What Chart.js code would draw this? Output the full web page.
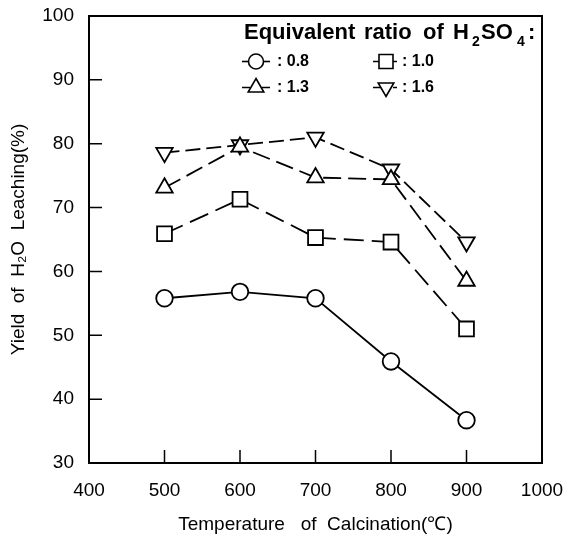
<!DOCTYPE html>
<html>
<head>
<meta charset="utf-8">
<script src="https://cdn.jsdelivr.net/npm/chart.js@4.4.0/dist/chart.umd.min.js"></script>
<style>
html, body { margin: 0; padding: 0; background: #fff; }
</style>
</head>
<body>
<canvas id="myYield" width="563" height="538"></canvas>
<script>
var temperatures = [500, 600, 700, 800, 900];
var ratio08 = [55.8, 56.8, 55.8, 45.9, 36.7];
var ratio10 = [65.9, 71.3, 65.3, 64.6, 51.0];
var ratio13 = [73.1, 79.5, 74.7, 74.4, 58.5];
var ratio16 = [78.6, 79.8, 81.0, 76.0, 64.6];
var ratioLabels = ["0.8", "1.0", "1.3", "1.6"];
var xTicks = [400, 500, 600, 700, 800, 900, 1000];
var yTicks = [30, 40, 50, 60, 70, 80, 90, 100];

var FAMILY = '"Liberation Sans", Arial, sans-serif';
Chart.defaults.font.family = FAMILY;
Chart.defaults.color = '#000';

function pts(vals) {
  return temperatures.map(function (t, i) { return { x: t, y: vals[i] }; });
}

// box round the plot, ticks pointing inwards
var frameTicks = {
  id: 'frameTicks',
  beforeDatasetsDraw: function (chart) {
    var a = chart.chartArea, ctx = chart.ctx;
    var xs = chart.scales.x, ys = chart.scales.y;
    ctx.save();
    ctx.strokeStyle = '#000';
    ctx.lineWidth = 2;
    ctx.strokeRect(a.left, a.top, a.right - a.left, a.bottom - a.top);
    ctx.lineWidth = 1.5;
    ctx.beginPath();
    xTicks.slice(1, -1).forEach(function (t) {
      var px = xs.getPixelForValue(t);
      ctx.moveTo(px, a.bottom);
      ctx.lineTo(px, a.bottom - 13);
    });
    yTicks.slice(1, -1).forEach(function (v) {
      var py = ys.getPixelForValue(v);
      ctx.moveTo(a.left, py);
      ctx.lineTo(a.left + 13, py);
    });
    ctx.stroke();
    ctx.restore();
  }
};

function marker(ctx, style, x, y) {
  ctx.beginPath();
  if (style === 'circle') {
    ctx.arc(x, y, 7.5, 0, Math.PI * 2);
  } else if (style === 'rect') {
    ctx.rect(x - 7, y - 7, 14, 14);
  } else if (style === 'up') {
    ctx.moveTo(x, y - 9); ctx.lineTo(x + 7.8, y + 4.5); ctx.lineTo(x - 7.8, y + 4.5); ctx.closePath();
  } else {
    ctx.moveTo(x, y + 9); ctx.lineTo(x + 7.8, y - 4.5); ctx.lineTo(x - 7.8, y - 4.5); ctx.closePath();
  }
  ctx.fillStyle = '#fff';
  ctx.fill();
  ctx.stroke();
}

var ratioLegend = {
  id: 'ratioLegend',
  afterDraw: function (chart) {
    var ctx = chart.ctx;
    ctx.save();
    ctx.fillStyle = '#000';
    ctx.strokeStyle = '#000';
    ctx.textBaseline = 'alphabetic';
    // title words are spread wide in the original
    var big = 'bold 22px ' + FAMILY, small = 'bold 14px ' + FAMILY;
    var parts = [
      ['Equivalent', 244, 39, big], ['ratio', 364, 39, big], ['of', 423, 39, big],
      ['H', 453, 39, big], ['2', 472, 46, small], ['SO', 481, 39, big],
      ['4', 517, 46, small], [':', 528, 39, big]
    ];
    parts.forEach(function (p) {
      ctx.font = p[3];
      ctx.fillText(p[0], p[1], p[2]);
    });

    var entries = [
      { x0: 242, x1: 270, mx: 256, tx: 277, y: 61.5, style: 'circle', dash: [] },
      { x0: 373, x1: 398, mx: 386, tx: 402, y: 61.5, style: 'rect', dash: [16, 4, 4, 4] },
      { x0: 242, x1: 271, mx: 256, tx: 277, y: 87.5, style: 'up', dash: [8, 2] },
      { x0: 373, x1: 400, mx: 386, tx: 402, y: 87.5, style: 'down', dash: [17, 3, 4, 3] }
    ];
    ctx.lineWidth = 1.6;
    ctx.font = 'bold 16px ' + FAMILY;
    ctx.textBaseline = 'middle';
    entries.forEach(function (e, i) {
      ctx.setLineDash(e.dash);
      ctx.beginPath();
      ctx.moveTo(e.x0, e.y);
      ctx.lineTo(e.x1, e.y);
      ctx.stroke();
      ctx.setLineDash([]);
      marker(ctx, e.style, e.mx, e.y);
      ctx.fillStyle = '#000';
      ctx.fillText(': ' + ratioLabels[i], e.tx, e.y);
    });
    ctx.restore();
  }
};

function series(label, vals, style, radius, dash, rotation) {
  return {
    label: label,
    data: pts(vals),
    borderColor: '#000',
    borderWidth: 1.8,
    borderDash: dash,
    pointStyle: style,
    pointRadius: radius,
    pointRotation: rotation || 0,
    pointBackgroundColor: '#fff',
    pointBorderColor: '#000',
    pointBorderWidth: 1.8,
    tension: 0,
    fill: false
  };
}

var ctx = document.getElementById("myYield").getContext('2d');
var myChart = new Chart(ctx, {
  type: 'line',
  data: {
    datasets: [
      series(ratioLabels[0], ratio08, 'circle', 8.3, []),
      series(ratioLabels[1], ratio10, 'rect', 10.5, [20, 8]),
      series(ratioLabels[2], ratio13, 'triangle', 9.5, [18, 7]),
      series(ratioLabels[3], ratio16, 'triangle', 9.5, [15, 6], 180)
    ]
  },
  plugins: [frameTicks, ratioLegend],
  options: {
    responsive: false,
    animation: false,
    devicePixelRatio: 1,
    layout: { padding: { top: 16, right: 21, left: 0, bottom: 0 } },
    plugins: { legend: { display: false }, tooltip: { enabled: false } },
    scales: {
      x: {
        type: 'linear',
        min: 400,
        max: 1000,
        afterBuildTicks: function (s) { s.ticks = xTicks.map(function (v) { return { value: v }; }); },
        afterFit: function (s) { s.height = 75; s.paddingLeft = 0; s.paddingRight = 0; },
        grid: { display: false, drawTicks: false },
        border: { display: false },
        ticks: {
          font: { size: 19 }, color: '#000', padding: 16, maxRotation: 0, autoSkip: false,
          callback: function (v) { return String(v); }
        },
        title: { display: true, text: 'Temperature   of  Calcination(℃)', font: { size: 19 }, color: '#000', padding: { top: 0, bottom: 2 } }
      },
      y: {
        min: 30,
        max: 100,
        afterBuildTicks: function (s) { s.ticks = yTicks.map(function (v) { return { value: v }; }); },
        afterFit: function (s) { s.width = 89; s.paddingTop = 0; s.paddingBottom = 0; },
        grid: { display: false, drawTicks: false },
        border: { display: false },
        ticks: { font: { size: 19 }, color: '#000', padding: 15, callback: function (v) { return String(v); } },
        title: { display: true, text: 'Yield  of  H₂O  Leaching(%)', font: { size: 19 }, color: '#000', padding: { top: 7, bottom: 0 } }
      }
    }
  }
});
</script>
</body>
</html>
